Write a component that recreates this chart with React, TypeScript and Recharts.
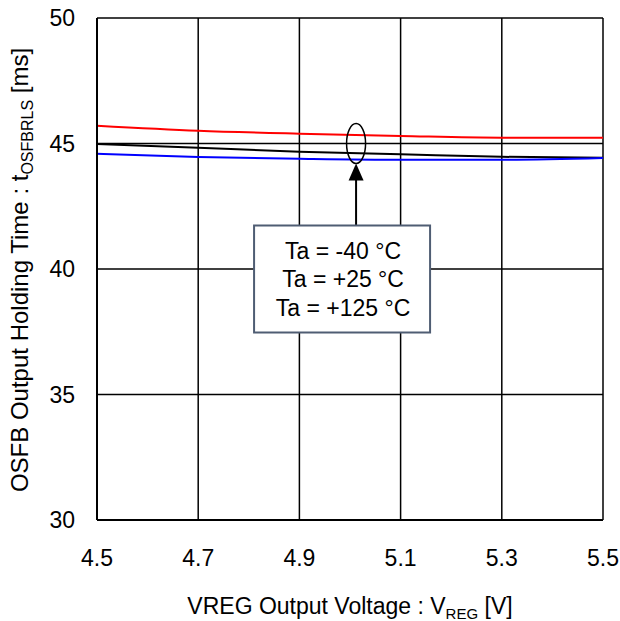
import React from "react";
import {
  LineChart,
  Line,
  XAxis,
  YAxis,
  CartesianGrid,
  ReferenceDot,
  Label,
} from "recharts";

const vreg = [4.5, 4.7, 4.9, 5.1, 5.3, 5.5];
const taMinus40 = [45.71, 45.51, 45.39, 45.3, 45.23, 45.23];
const ta25 = [44.98, 44.83, 44.67, 44.57, 44.47, 44.43];
const ta125 = [44.59, 44.46, 44.39, 44.35, 44.35, 44.42];
const xTicks = [4.5, 4.7, 4.9, 5.1, 5.3, 5.5];
const yTicks = [30, 35, 40, 45, 50];
const legendLines = ["Ta = -40 °C", "Ta = +25 °C", "Ta = +125 °C"];

const FONT = "'Liberation Sans', Arial, sans-serif";

const data = vreg.map((v, i) => ({
  v,
  m40: taMinus40[i],
  p25: ta25[i],
  p125: ta125[i],
}));

// ellipse around the curves, arrow and the box with the temperatures
const Annotation = (props: any) => {
  const { cx, cy } = props;
  if (cx == null || cy == null) return <g />;
  const bx = cx - 102;
  const by = cy + 82;
  return (
    <g>
      <ellipse cx={cx} cy={cy} rx={9.5} ry={20} fill="none" stroke="#000" strokeWidth={1.5} />
      <line x1={cx} y1={by} x2={cx} y2={cy + 34} stroke="#000" strokeWidth={2} />
      <polygon
        points={`${cx},${cy + 20} ${cx - 7.5},${cy + 37} ${cx + 7.5},${cy + 37}`}
        fill="#000"
      />
      <rect x={bx} y={by} width={176} height={107} fill="#fff" stroke="#4f5d73" strokeWidth={2} />
      {legendLines.map((t, i) => (
        <text
          key={t}
          x={cx - 13}
          y={cy + 115 + i * 28.5}
          textAnchor="middle"
          fontSize={23}
          fontFamily={FONT}
          fill="#000"
        >
          {t}
        </text>
      ))}
    </g>
  );
};

const XTitle = (props: any) => {
  const vb = props.viewBox || { x: 97, y: 520, width: 506 };
  return (
    <text
      x={vb.x + vb.width / 2}
      y={614}
      textAnchor="middle"
      fontSize={23}
      fontFamily={FONT}
      fill="#000"
    >
      VREG Output Voltage : V
      <tspan fontSize={15} dy={5}>REG</tspan>
      <tspan dy={-5}> [V]</tspan>
    </text>
  );
};

const YTitle = () => {
  const x = 28;
  const y = 270;
  return (
    <text
      x={x}
      y={y}
      transform={`rotate(-90, ${x}, ${y})`}
      textAnchor="middle"
      fontSize={24}
      fontFamily={FONT}
      fill="#000"
    >
      OSFB Output Holding Time : t
      <tspan fontSize={16} dy={5}>OSFBRLS</tspan>
      <tspan dy={-5}> [ms]</tspan>
    </text>
  );
};

export default function App() {
  return (
    <div style={{ position: "absolute", left: 0, top: 0, width: 620, height: 621, background: "#fff" }}>
      <LineChart
        width={620}
        height={621}
        data={data}
        margin={{ top: 18, right: 17, left: 0, bottom: 0 }}
      >
        <CartesianGrid stroke="#000" strokeWidth={1.5} />
        <XAxis
          dataKey="v"
          type="number"
          domain={[4.5, 5.5]}
          ticks={xTicks}
          tickFormatter={(v: number) => v.toFixed(1)}
          height={101}
          tickSize={0}
          tickMargin={30}
          axisLine={{ stroke: "#000", strokeWidth: 2 }}
          tick={{ fill: "#000", fontSize: 23, fontFamily: FONT }}
          interval={0}
        >
          <Label content={<XTitle />} />
        </XAxis>
        <YAxis
          type="number"
          domain={[30, 50]}
          ticks={yTicks}
          width={97}
          tickSize={0}
          tickMargin={22}
          axisLine={{ stroke: "#000", strokeWidth: 2 }}
          tick={{ fill: "#000", fontSize: 23, fontFamily: FONT }}
          interval={0}
        >
          <Label content={<YTitle />} />
        </YAxis>
        <Line dataKey="m40" type="monotone" stroke="#ff0000" strokeWidth={2} dot={false} isAnimationActive={false} />
        <Line dataKey="p25" type="monotone" stroke="#000000" strokeWidth={2} dot={false} isAnimationActive={false} />
        <Line dataKey="p125" type="monotone" stroke="#0000ff" strokeWidth={2} dot={false} isAnimationActive={false} />
        <ReferenceDot x={5.012} y={45.0} r={0} shape={<Annotation />} />
      </LineChart>
    </div>
  );
}
